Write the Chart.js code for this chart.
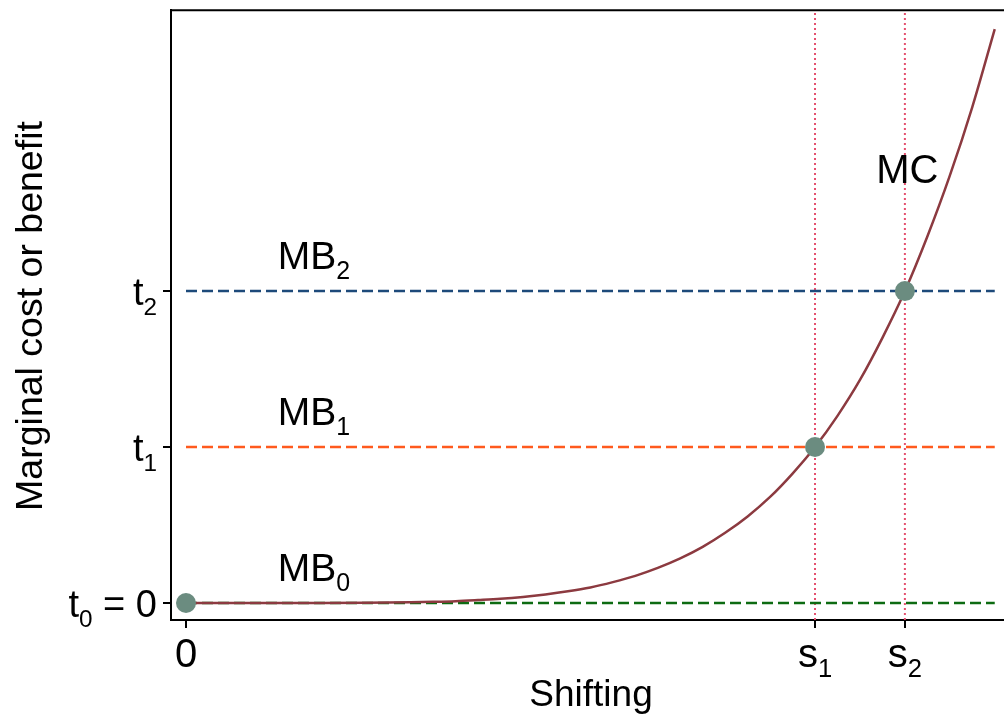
<!DOCTYPE html>
<html>
<head>
<meta charset="utf-8">
<script src="https://cdn.jsdelivr.net/npm/chart.js@4.4.1/dist/chart.umd.min.js"></script>
<style>
  html, body { margin: 0; padding: 0; background: #ffffff; }
  #wrap { width: 1004px; height: 718px; }
</style>
</head>
<body>
<div id="wrap"><canvas id="c" width="1004" height="718"></canvas></div>
<script>
// Shifting levels on the x axis: 0, s1, s2
const shiftTicks = [0, 7, 8];
const shiftTickLabels = [['0'], ['s', '1'], ['s', '2']];
// Benefit levels on the y axis: t0 = 0, t1, t2
const benefitLevels = [0, 1, 2];
const benefitTickLabels = [['t', '0', ' = 0'], ['t', '1'], ['t', '2']];
const mbNames = [['MB', '0'], ['MB', '1'], ['MB', '2']];
const mbColors = ['#0d6b12', '#ff5a1e', '#1d4a7a'];

// Marginal cost curve
const mcX = [0, 0.5, 1, 1.5, 2, 2.25, 2.5, 2.75, 3, 3.25, 3.5, 3.75, 4, 4.25, 4.5, 4.75, 5, 5.25, 5.5, 5.75, 6, 6.25, 6.5, 6.75, 7, 7.25, 7.5, 7.75, 8, 8.25, 8.5, 8.75, 9];
const mcY = [0, 0, 0, 0.0003, 0.0015, 0.0028, 0.0048, 0.0078, 0.012, 0.019, 0.027, 0.039, 0.055, 0.075, 0.10, 0.134, 0.174, 0.225, 0.286, 0.36, 0.45, 0.555, 0.68, 0.83, 1.0, 1.2, 1.43, 1.7, 2.0, 2.35, 2.74, 3.18, 3.68];

// Intersections of MC with each MB line
const eqX = [0, 7, 8];
const eqY = [0, 1, 2];

// Axis ranges
const xMin = -0.167, xMax = 9.103;
const yMin = -0.109, yMax = 3.801;
const mbStart = 0, mbEnd = 9;

const FONT = '"Liberation Sans", Arial, Helvetica, sans-serif';

function drawParts(ctx, parts, x, y, size, align) {
  // parts: [main, sub, tail] — sub is drawn smaller and lowered
  const subSize = size * 0.64;
  const widths = parts.map((p, i) => {
    ctx.font = (i === 1 ? subSize : size) + 'px ' + FONT;
    return ctx.measureText(p).width;
  });
  const total = widths.reduce((a, b) => a + b, 0);
  let cx = align === 'right' ? x - total : align === 'center' ? x - total / 2 : x;
  ctx.textAlign = 'left';
  ctx.textBaseline = 'alphabetic';
  parts.forEach((p, i) => {
    ctx.font = (i === 1 ? subSize : size) + 'px ' + FONT;
    ctx.fillText(p, cx, i === 1 ? y + size * 0.26 : y);
    cx += widths[i];
  });
}

const textPlugin = {
  id: 'annotTexts',
  afterDraw(chart) {
    const ctx = chart.ctx;
    const xs = chart.scales.x, ys = chart.scales.y;
    const area = chart.chartArea;
    ctx.save();
    // top frame line
    ctx.strokeStyle = '#000';
    ctx.lineWidth = 2;
    ctx.beginPath();
    ctx.moveTo(area.left - 1, area.top);
    ctx.lineTo(area.right, area.top);
    ctx.stroke();

    ctx.fillStyle = '#000';
    // y tick labels
    benefitLevels.forEach((v, i) => {
      drawParts(ctx, benefitTickLabels[i], 157, ys.getPixelForValue(v) + 14, 38, 'right');
    });
    // x tick labels
    shiftTicks.forEach((v, i) => {
      drawParts(ctx, shiftTickLabels[i], xs.getPixelForValue(v), 667, 40, 'center');
    });
    // MB labels
    benefitLevels.forEach((v, i) => {
      drawParts(ctx, mbNames[i], xs.getPixelForValue(1.02), ys.getPixelForValue(v) - 22, 39, 'left');
    });
    // MC label
    ctx.font = '40px ' + FONT;
    ctx.textAlign = 'left';
    ctx.fillText('MC', xs.getPixelForValue(7.68), 183);

    // axis titles
    ctx.font = '37px ' + FONT;
    ctx.textAlign = 'center';
    ctx.fillText('Shifting', 591, 706);
    ctx.save();
    ctx.translate(42, 316);
    ctx.rotate(-Math.PI / 2);
    ctx.font = '37.5px ' + FONT;
    ctx.fillText('Marginal cost or benefit', 0, 0);
    ctx.restore();
    ctx.restore();
  }
};

const datasets = [];
// vertical dotted guides at s1 and s2
[7, 8].forEach(s => {
  datasets.push({
    data: [{ x: s, y: yMin }, { x: s, y: yMax }],
    borderColor: '#e4506f', borderWidth: 2, borderDash: [2, 3],
    pointRadius: 0, order: 5
  });
});
// horizontal MB lines
benefitLevels.forEach((v, i) => {
  datasets.push({
    data: [{ x: mbStart, y: v }, { x: mbEnd, y: v }],
    borderColor: mbColors[i], borderWidth: 2.5, borderDash: [11, 5],
    pointRadius: 0, order: 4
  });
});
// MC curve
datasets.push({
  data: mcX.map((x, i) => ({ x, y: mcY[i] })),
  borderColor: '#8c3a40', borderWidth: 2.5,
  cubicInterpolationMode: 'monotone',
  pointRadius: 0, order: 2
});
// intersection markers
datasets.push({
  data: eqX.map((x, i) => ({ x, y: eqY[i] })),
  showLine: false, pointRadius: 10, pointHoverRadius: 10,
  pointBackgroundColor: '#6b8c80', pointBorderWidth: 0,
  order: 1
});

new Chart(document.getElementById('c'), {
  type: 'line',
  data: { datasets },
  options: {
    responsive: false,
    animation: false,
    events: [],
    layout: { autoPadding: false, padding: { top: 10, right: 0, left: 0, bottom: 0 } },
    plugins: { legend: { display: false }, tooltip: { enabled: false } },
    scales: {
      x: {
        type: 'linear', min: xMin, max: xMax,
        afterBuildTicks: s => { s.ticks = shiftTicks.map(v => ({ value: v })); },
        afterFit: s => { s.height = 98; },
        ticks: { callback: () => '', autoSkip: false },
        grid: { drawOnChartArea: false, drawTicks: true, tickLength: 8, color: '#000', lineWidth: 2 },
        border: { display: true, color: '#000', width: 2 }
      },
      y: {
        type: 'linear', min: yMin, max: yMax,
        afterBuildTicks: s => { s.ticks = benefitLevels.map(v => ({ value: v })); },
        afterFit: s => { s.width = 171; },
        ticks: { callback: () => '', autoSkip: false },
        grid: { drawOnChartArea: false, drawTicks: true, tickLength: 8, color: '#000', lineWidth: 2 },
        border: { display: true, color: '#000', width: 2 }
      }
    }
  },
  plugins: [textPlugin]
});
</script>
</body>
</html>
